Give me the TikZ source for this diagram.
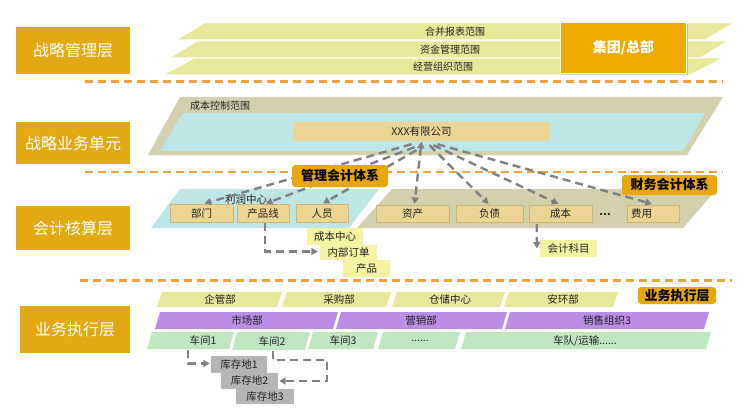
\documentclass[tikz,border=0pt]{standalone}
\usepackage{fontspec}
\setmainfont{Noto Sans CJK SC}
\usetikzlibrary{arrows.meta,calc,shadows}
\definecolor{gold}{HTML}{E3A912}
\definecolor{hq}{HTML}{EDA900}
\definecolor{bdg}{HTML}{EAA70A}
\definecolor{ygr}{HTML}{E8E89C}
\definecolor{tanc}{HTML}{D3D1AD}
\definecolor{cyanc}{HTML}{BDE6E6}
\definecolor{wheat}{HTML}{ECD495}
\definecolor{wheatd}{HTML}{CDB57A}
\definecolor{pale}{HTML}{F5F2A2}
\definecolor{purp}{HTML}{BB8DE5}
\definecolor{grn}{HTML}{C0E8C0}
\definecolor{grayb}{HTML}{B5B5B5}
\definecolor{arrg}{HTML}{808080}
\definecolor{orng}{HTML}{F0A33A}
\definecolor{txt}{HTML}{222222}
\newcommand{\slab}[8]{%
  \fill[#6] (#2,#4) -- (#3,#4) -- ({#3-5},#5) -- ({#2-5},#5) -- cycle;
  \node[slabtxt] (#1) at (#7,{(#4+#5)/2}) {#8};}
\begin{document}
\begin{tikzpicture}[x=1pt,y=-1pt,
  lbl/.style={fill=gold,text=white,font=\fontsize{16}{18}\selectfont,inner sep=0pt},
  sepline/.style={draw=orng,line width=2.4pt,dash pattern=on 8pt off 5pt},
  strip/.style={fill=ygr,draw=white,line width=1pt},
  small/.style={font=\fontsize{10}{12}\selectfont,text=txt,inner sep=0pt},
  wbox/.style={fill=wheat,draw=wheatd,line width=0.6pt,inner sep=0pt,font=\fontsize{10.5}{12}\selectfont,text=txt,minimum height=17.5pt},
  ybox/.style={fill=pale,inner sep=0pt,font=\fontsize{10.5}{12}\selectfont,text=txt},
  gbox/.style={fill=grayb,inner sep=0pt,font=\fontsize{10.5}{12}\selectfont,text=txt},
  slabtxt/.style={font=\fontsize{10.5}{12}\selectfont,text=txt,inner sep=0pt},
  badge/.style={fill=bdg,rounded corners=3pt,font=\bfseries\fontsize{13}{15}\selectfont,text=black,inner sep=0pt},
  arr/.style={draw=arrg,line width=2.4pt,dash pattern=on 8pt off 5pt,-{Triangle[length=6.5pt,width=7pt]}},
]
\useasboundingbox (0,0) rectangle (743,409);
\fill[white] (0,0) rectangle (743,409);

% left layer labels
\node[lbl,minimum width=114pt,minimum height=47pt] (L1) at (73,50.5) {战略管理层};
\node[lbl,minimum width=114pt,minimum height=42pt] (L2) at (73,143) {战略业务单元};
\node[lbl,minimum width=114pt,minimum height=44pt] (L3) at (73,228) {会计核算层};
\node[lbl,minimum width=110pt,minimum height=47pt] (L4) at (75,329.5) {业务执行层};

% separators
\draw[sepline] (85,81.5) -- (723,81.5);
\draw[sepline] (85,172) -- (723,172);
\draw[sepline] (80,280.5) -- (732,280.5);

% top strips
\path[strip] (163,75) -- (194,58) -- (723,58) -- (690,75) -- cycle;
\path[strip] (169,58) -- (197,41) -- (728,41) -- (700,58) -- cycle;
\path[strip] (176,40) -- (204,23) -- (734,23) -- (705,40) -- cycle;
\node[small] (s1) at (455,31.5) {合并报表范围};
\node[small] (s2) at (450,49.5) {资金管理范围};
\node[small] (s3) at (443,66.5) {经营组织范围};
\node[fill=hq,draw=white,line width=1.6pt,minimum width=126pt,minimum height=51pt,inner sep=0pt,
  text=white,font=\bfseries\fontsize{14}{16}\selectfont,
  drop shadow={opacity=0.35,shadow xshift=1.2pt,shadow yshift=-1.2pt}] (hq) at (623.5,48) {集团/总部};

% strategic business unit
\fill[tanc] (148,155) -- (180,97) -- (723,97) -- (687,155) -- cycle;
\fill[cyanc] (160,151) -- (183,113) -- (705,113) -- (683,151) -- cycle;
\node[small,anchor=west] (cbk) at (190,106) {成本控制范围};
\node[fill=wheat,inner sep=0pt,minimum width=257pt,minimum height=19pt,font=\fontsize{10.5}{12}\selectfont,text=txt] (xxx) at (421.5,131.5) {XXX有限公司};

% accounting layer backgrounds
\fill[cyanc] (151,228) -- (180,189) -- (379,189) -- (349,228) -- cycle;
\fill[tanc] (357,228) -- (392,189) -- (717,189) -- (683,228) -- cycle;
\node[slabtxt] (lrzx) at (246,199) {利润中心};

\node[wbox,minimum width=63pt] (bm) at (201.5,213.5) {部门};
\node[wbox,minimum width=52pt] (cpx) at (263,213.5) {产品线};
\node[wbox,minimum width=52pt] (ry) at (322,213.5) {人员};
\node[wbox,minimum width=73pt] (zc) at (412.5,214) {资产};
\node[wbox,minimum width=67pt] (fz) at (489.5,214) {负债};
\node[wbox,minimum width=63pt] (cb) at (560.5,214) {成本};
\node[slabtxt] (dots) at (605,214) {\textbf{…}};
\node[wbox,minimum width=52pt] (fy) at (653,214) {\makebox[44pt][l]{费用}};

\node[ybox,minimum width=56pt,minimum height=17pt] (cbzx) at (335,236.5) {成本中心};
\node[ybox,minimum width=57pt,minimum height=15pt] (nbdd) at (348.5,252.5) {内部订单};
\node[ybox,minimum width=47pt,minimum height=17pt] (cp) at (366.5,268.5) {产品};
\node[ybox,minimum width=57pt,minimum height=17pt] (kjkm) at (568.5,248.5) {会计科目};

% arrows from company
\draw[arr] ($(xxx.south)+(-10,3)$) -- ($(bm.north)+(3,-1)$);
\draw[arr] ($(xxx.south)+(-7,6)$) -- ($(cpx.north)+(3,-1)$);
\draw[arr] ($(xxx.south)+(-5,9)$) -- ($(ry.north)+(1,-1)$);
\draw[arr,{Triangle[length=6.5pt,width=7pt]}-{Triangle[length=6.5pt,width=7pt]}] ($(xxx.south)+(0,0.5)$) -- ($(zc.north)+(2,-1)$);
\draw[arr] ($(xxx.south)+(8,4)$) -- ($(fz.north)+(-1,-1)$);
\draw[arr] ($(xxx.south)+(12,4)$) -- ($(cb.north)+(-2,-1)$);
\draw[arr] ($(xxx.south)+(16,3)$) -- ($(fy.north)+(-1,-1)$);

\draw[arr] ($(cpx.south)+(2,0.5)$) |- ($(nbdd.west)+(-2,-1)$);
\draw[arr] ($(cb.south west)+(8,1)$) -- ($(kjkm.west)+(-3,0)$);

\node[badge,minimum width=96pt,minimum height=22pt] (glkj) at (340,176) {管理会计体系};
\node[badge,minimum width=95pt,minimum height=20pt] (cwkj) at (669.5,185) {财务会计体系};

% business execution layer
\slab{qgb}{162}{282}{292}{307}{ygr}{220}{企管部}
\slab{cgb}{287}{391}{292}{307}{ygr}{339}{采购部}
\slab{cczx}{397}{505}{292}{307}{ygr}{450}{仓储中心}
\slab{ahb}{509}{618}{292}{307}{ygr}{563}{安环部}
\node[badge,minimum width=78pt,minimum height=17pt] (ywzx) at (677,295.5) {业务执行层};

\slab{scb}{160}{338}{312}{329}{purp}{247}{市场部}
\slab{yxb}{341}{507}{312}{329}{purp}{421}{营销部}
\slab{xszz}{510}{709}{312}{329}{purp}{607}{销售组织3}

\slab{cj1}{152}{234}{332}{349}{grn}{203}{车间1}
\slab{cj2}{237}{310}{332}{350}{grn}{272}{车间2}
\slab{cj3}{313}{378}{332}{349}{grn}{343}{车间3}
\slab{cjd}{383}{460}{332}{349}{grn}{420}{......}
\slab{cd}{466}{711}{332}{349}{grn}{585}{车队/运输......}

\node[gbox,minimum width=56pt,minimum height=17pt] (kc1) at (239,364.5) {库存地1};
\node[gbox,minimum width=57pt,minimum height=16pt] (kc2) at (249.5,381) {库存地2};
\node[gbox,minimum width=58pt,minimum height=15pt] (kc3) at (265,396.5) {库存地3};

\coordinate (cj1b) at (188,350);
\coordinate (cj2b) at (273,351);
\coordinate (turn) at (327,360);
\draw[arr] (cj1b) |- ($(kc1.west)+(-1,-1)$);
\draw[arr] (cj2b) |- (turn) |- ($(kc2.east)+(1,0)$);
\end{tikzpicture}
\end{document}
